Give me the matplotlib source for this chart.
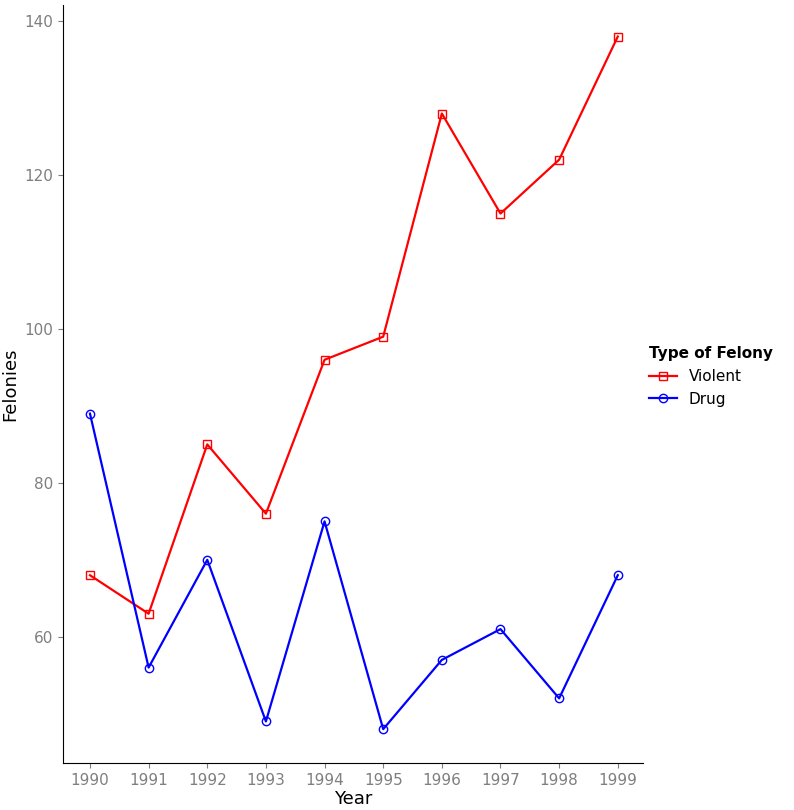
import matplotlib
matplotlib.use("Agg")
import matplotlib.pyplot as plt

years = [1990,1991,1992,1993,1994,1995,1996,1997,1998,1999]
violent = [68,63,85,76,96,99,128,115,122,138]
drug = [89,56,70,49,75,48,57,61,52,68]

fig = plt.figure(figsize=(7.94,8.10), dpi=100)
ax = fig.add_axes([63/794, 1-763/810, 580/794, 758/810])
ax.plot(years, violent, color='#ff0000', marker='s', mfc='none', ms=6, lw=1.6, label='Violent')
ax.plot(years, drug, color='#0000ff', marker='o', mfc='none', ms=6, lw=1.6, label='Drug')
ax.set_xlim(1989.54, 1999.43)
ax.set_ylim(43.6, 142.1)
ax.set_xticks(years)
ax.set_yticks([60,80,100,120,140])
for s in ['top','right']:
    ax.spines[s].set_visible(False)
ax.tick_params(colors='#7f7f7f', labelsize=11, labelcolor='#7f7f7f')
ax.set_xlabel('Year', fontsize=13, labelpad=2)
ax.set_ylabel('Felonies', fontsize=13)
leg = ax.legend(title='Type of Felony', loc='center left', bbox_to_anchor=(1.0, 0.51),
                frameon=False, fontsize=11, title_fontproperties={'weight':'bold','size':11},
                handlelength=1.8, borderaxespad=0.2, borderpad=0.2)
leg._legend_box.align = 'left'
fig.savefig('out.png', dpi=100)
